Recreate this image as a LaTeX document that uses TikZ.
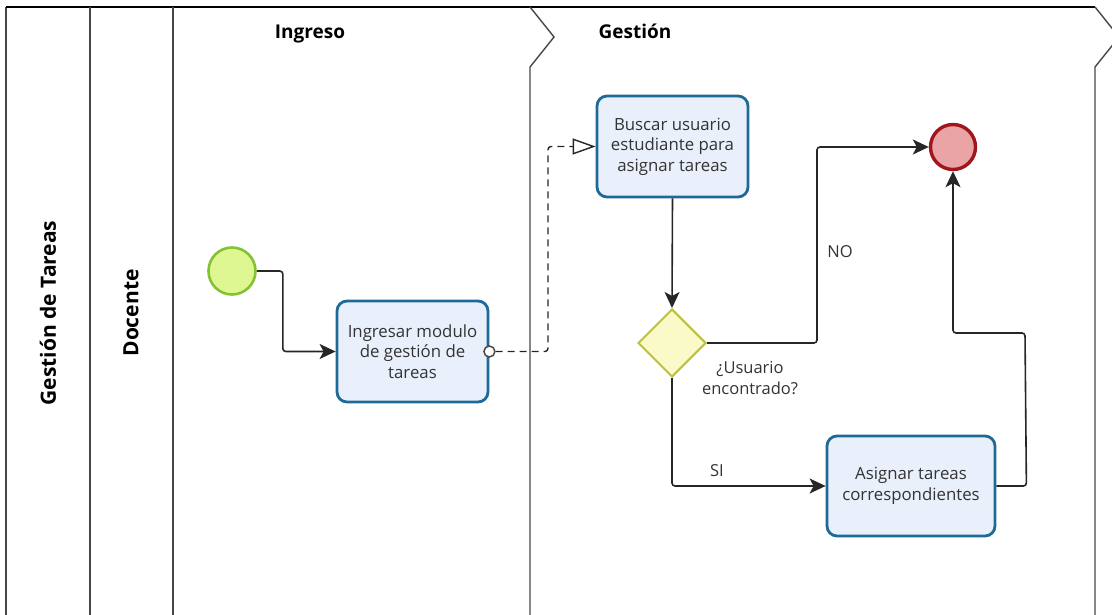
\documentclass[tikz,border=0pt]{standalone}
\usepackage{fontspec}
\setmainfont{Open Sans}
\usetikzlibrary{positioning,arrows.meta,shapes.geometric}

\definecolor{tarealinea}{RGB}{30,106,150}
\definecolor{tareafondo}{RGB}{234,239,252}
\definecolor{iniciolinea}{RGB}{130,195,50}
\definecolor{iniciofondo}{RGB}{223,247,146}
\definecolor{finlinea}{RGB}{160,22,28}
\definecolor{finfondo}{RGB}{235,164,166}
\definecolor{puertalinea}{RGB}{190,190,64}
\definecolor{puertafondo}{RGB}{250,250,200}
\definecolor{carril}{RGB}{70,70,70}

\begin{document}
\begin{tikzpicture}[x=1pt,y=-1pt,
  tarea/.style={rectangle,draw=tarealinea,fill=tareafondo,line width=2.8pt,
                rounded corners=10pt,minimum width=151pt,minimum height=101pt,
                align=center,text=black!80,font=\fontsize{16.8}{20.5}\selectfont},
  inicio/.style={circle,draw=iniciolinea,fill=iniciofondo,line width=2.6pt,
                 minimum size=47pt,inner sep=0pt},
  fin/.style={circle,draw=finlinea,fill=finfondo,line width=3.4pt,
              minimum size=45pt,inner sep=0pt},
  puerta/.style={diamond,draw=puertalinea,fill=puertafondo,line width=2pt,
                 minimum size=68pt,inner sep=0pt},
  etiqueta/.style={align=center,text=black!80,font=\fontsize{16.5}{20.5}\selectfont},
  titulo/.style={font=\fontsize{19}{22}\selectfont\bfseries},
  flujo/.style={draw=black!85,line width=1.6pt,rounded corners=3pt,
                -{Stealth[length=16pt,width=15pt,inset=4pt]}},
  mensaje/.style={draw=black!85,line width=1.4pt,dash pattern=on 7pt off 5pt,
                  rounded corners=3pt,-{Triangle[open,length=23pt,width=16pt]}},
  msgorigen/.style={circle,draw=black!70,fill=white,line width=1.5pt,
                    minimum size=11pt,inner sep=0pt}
]
  \useasboundingbox (0,0) rectangle (1112,615);

  % carriles
  \draw[carril,line width=1.6pt] (6,615) -- (6,7);
  \draw[black,line width=2.2pt] (6,7) -- (1095,7);
  \draw[carril,line width=1.6pt] (90,7) -- (90,615);
  \draw[carril,line width=1.6pt] (173,7) -- (173,615);
  \draw[carril,line width=1.4pt] (530,7) -- (554,37) -- (530,67) -- (530,615);
  \draw[carril,line width=1.4pt] (1095,7) -- (1119,37) -- (1095,67) -- (1095,615);

  \node[titulo, rotate=90, font=\fontsize{21}{24}\selectfont\bfseries] (pool) at (48,313) {Gestión de Tareas};
  \node[titulo, rotate=90, font=\fontsize{21}{24}\selectfont\bfseries] (rol)  at (131,313) {Docente};
  \node[titulo, anchor=base] (ingreso) at (310,39) {Ingreso};
  \node[titulo, anchor=base] (gestion) at (635,39) {Gestión};

  % elementos
  \node[inicio] (ini) at (232,271) {};
  \node[tarea]  (t1)  at (412.5,351.5) {Ingresar modulo\\de gestión de\\tareas};
  \node[tarea]  (t2)  at (672.5,146.5) {Buscar usuario\\estudiante para\\asignar tareas};
  \node[puerta] (gw)  at (672,343) {};
  \node[tarea, minimum width=168pt, minimum height=100pt]
                (t3)  at (911,486) {Asignar tareas\\correspondientes};
  \node[fin]    (end) at (953,147) {};
  \node[msgorigen] (m) at (t1.east) {};

  \node[etiqueta] (pregunta) at (750,378) {¿Usuario\\encontrado?};
  \node[etiqueta] (no) at (840,252) {NO};
  \node[etiqueta] (si) at (717,471) {SI};

  % conectores
  \draw[flujo] (ini.east) -- ++(26,0) |- (t1.west);
  \draw[mensaje] (m.east) -- (548,351.5) |- (t2.west);
  \draw[flujo] (t2.south) -- (gw.north);
  \draw[flujo] (gw.east) -- (817,343) |- (end.west);
  \draw[flujo] (gw.south) |- (t3.west);
  \draw[flujo] (t3.east) -- ++(30,0) -- (1025,333) -| (end.south);
\end{tikzpicture}
\end{document}
